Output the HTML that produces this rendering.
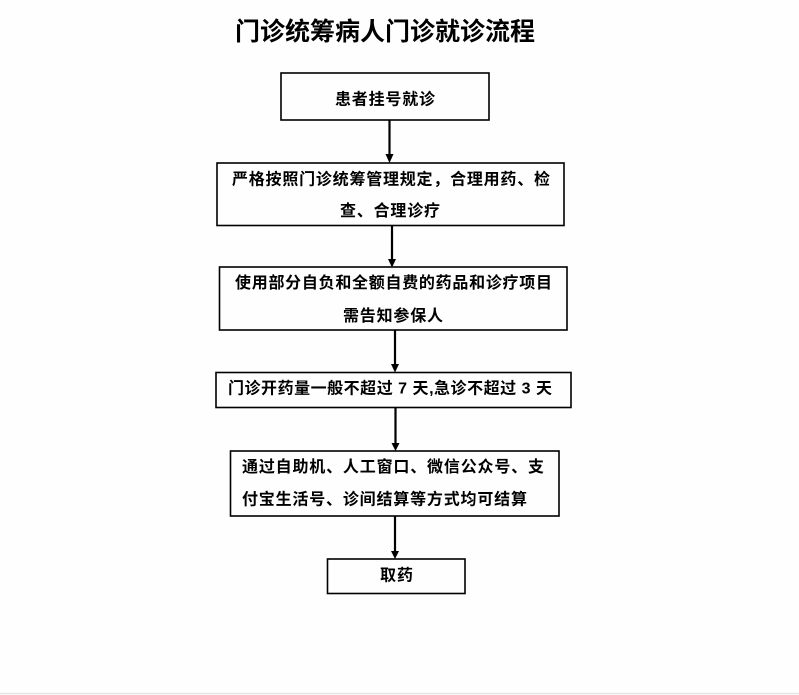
<!DOCTYPE html>
<html>
<head>
<meta charset="utf-8">
<style>
  html, body { margin:0; padding:0; background:#fff; }
  body { width:799px; height:695px; overflow:hidden; position:relative; }
  svg { display:block; }
  text { font-family: "Liberation Sans", "Noto Sans CJK SC", sans-serif; fill:#000; }
  .t { font-size:16px; font-weight:bold; }
  .title { font-size:25px; font-weight:bold; }
</style>
</head>
<body>
<svg width="799" height="695" viewBox="0 0 799 695" xmlns="http://www.w3.org/2000/svg">
  <rect x="0" y="0" width="799" height="695" fill="#fefefe"/>
  <line x1="0" y1="693.5" x2="799" y2="693.5" stroke="#e4e4e4" stroke-width="1.5"/>

  <text class="title" x="235" y="32" dominant-baseline="central" textLength="300" lengthAdjust="spacing">门诊统筹病人门诊就诊流程</text>

  <g fill="none" stroke="#000" stroke-width="1.6">
    <rect x="281" y="73" width="208" height="47"/>
    <rect x="217" y="163" width="347" height="62.5"/>
    <rect x="219.5" y="267" width="347.5" height="63"/>
    <rect x="216" y="372.5" width="355" height="35"/>
    <rect x="230.5" y="451" width="328.5" height="65"/>
    <rect x="327.5" y="559" width="137.5" height="34.5"/>
  </g>

  <g stroke="#000" stroke-width="2.2">
    <line x1="389.5" y1="120" x2="389.5" y2="155"/>
    <line x1="392" y1="226" x2="392" y2="260"/>
    <line x1="395" y1="330" x2="395" y2="365"/>
    <line x1="395.5" y1="408" x2="395.5" y2="444"/>
    <line x1="395" y1="516" x2="395" y2="552"/>
  </g>
  <g fill="#000">
    <polygon points="385.5,154 393.5,154 389.5,163"/>
    <polygon points="388,259 396,259 392,267.5"/>
    <polygon points="391,364 399,364 395,372.5"/>
    <polygon points="391.5,443 399.5,443 395.5,451"/>
    <polygon points="391,551 399,551 395,559"/>
  </g>

  <text class="t" x="335" y="100" dominant-baseline="central" textLength="100" lengthAdjust="spacing">患者挂号就诊</text>

  <text class="t" x="232" y="180" dominant-baseline="central" textLength="318" lengthAdjust="spacing">严格按照门诊统筹管理规定，合理用药、检</text>
  <text class="t" x="340" y="211.5" dominant-baseline="central" textLength="100" lengthAdjust="spacing">查、合理诊疗</text>

  <text class="t" x="235" y="283.5" dominant-baseline="central" textLength="317" lengthAdjust="spacing">使用部分自负和全额自费的药品和诊疗项目</text>
  <text class="t" x="343" y="316.5" dominant-baseline="central" textLength="100" lengthAdjust="spacing">需告知参保人</text>

  <text class="t" x="228" y="389" dominant-baseline="central" textLength="324" lengthAdjust="spacing">门诊开药量一般不超过 7 天,急诊不超过 3 天</text>

  <text class="t" x="242" y="467.5" dominant-baseline="central" textLength="302" lengthAdjust="spacing">通过自助机、人工窗口、微信公众号、支</text>
  <text class="t" x="242" y="500" dominant-baseline="central" textLength="285" lengthAdjust="spacing">付宝生活号、诊间结算等方式均可结算</text>

  <text class="t" x="380" y="576" dominant-baseline="central" textLength="33" lengthAdjust="spacing">取药</text>
</svg>
</body>
</html>
